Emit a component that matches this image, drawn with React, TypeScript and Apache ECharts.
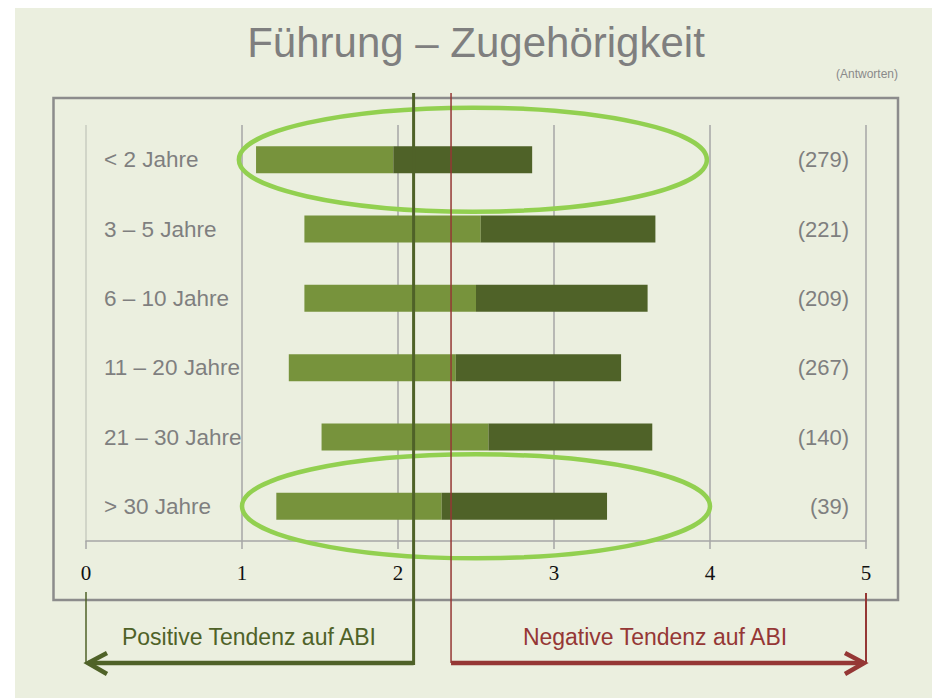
import React, { useEffect, useRef } from "react";
import * as echarts from "echarts";

const categories = ["< 2 Jahre", "3 – 5 Jahre", "6 – 10 Jahre", "11 – 20 Jahre", "21 – 30 Jahre", "> 30 Jahre"];
const counts = ["(279)", "(221)", "(209)", "(267)", "(140)", "(39)"];
const barStart = [1.09, 1.40, 1.40, 1.30, 1.51, 1.22];
const barMid = [1.97, 2.53, 2.50, 2.37, 2.58, 2.28];
const barEnd = [2.86, 3.65, 3.60, 3.43, 3.63, 3.34];
const xTicks = [0, 1, 2, 3, 4, 5];
const positiveMark = 2.1;
const negativeMark = 2.34;
const highlightRows = [0, 5];
const highlightCenters = [2.48, 2.5];
const highlightHalfWidth = 1.5;

const SANS = "'Liberation Sans', Arial, sans-serif";
const GREEN = "#4f6228";
const RED = "#953735";

export default function App() {
  const ref = useRef<HTMLDivElement>(null);
  useEffect(() => {
    const chart = echarts.init(ref.current!, null, { renderer: "svg" });
    const option: any = {
      animation: false,
      backgroundColor: "#ebefdf",
      grid: { left: 71, right: 66, top: 117, bottom: 157 },
      xAxis: {
        type: "value",
        min: xTicks[0],
        max: xTicks[xTicks.length - 1],
        interval: 1,
        axisLine: { show: true, lineStyle: { color: "#a6a6a6", width: 1.5 } },
        axisTick: { show: true, length: 8, lineStyle: { color: "#a6a6a6", width: 1.5 } },
        splitLine: {
          show: true,
          lineStyle: { color: ["#c9ccc0", "#a6a6a6", "#a6a6a6", "#a6a6a6", "#a6a6a6", "#a6a6a6"], width: 1.5 },
        },
        axisLabel: {
          margin: 21,
          color: "#111111",
          fontSize: 21,
          fontFamily: "'Liberation Serif', 'Times New Roman', serif",
        },
      },
      yAxis: [
        {
          type: "category",
          data: categories,
          inverse: true,
          axisLine: { show: false },
          axisTick: { show: false },
          splitLine: { show: false },
          axisLabel: { inside: true, margin: 18, color: "#7f7f7f", fontSize: 22.5, fontFamily: SANS },
        },
        {
          type: "category",
          data: counts,
          inverse: true,
          position: "right",
          axisLine: { show: false },
          axisTick: { show: false },
          splitLine: { show: false },
          axisLabel: { inside: true, margin: 17, color: "#7f7f7f", fontSize: 22, fontFamily: SANS },
        },
      ],
      series: [
        {
          type: "bar",
          stack: "a",
          barWidth: 27,
          itemStyle: { color: "transparent" },
          data: barStart,
          silent: true,
        },
        {
          type: "bar",
          stack: "a",
          barWidth: 27,
          itemStyle: { color: "#77933c" },
          data: barMid.map((m, i) => +(m - barStart[i]).toFixed(3)),
        },
        {
          type: "bar",
          stack: "a",
          barWidth: 27,
          itemStyle: { color: "#4f6228" },
          data: barEnd.map((e, i) => +(e - barMid[i]).toFixed(3)),
        },
      ],
    };
    chart.setOption(option);

    const px = (v: number) => chart.convertToPixel({ xAxisIndex: 0 }, v) as number;
    const py = (i: number) => chart.convertToPixel({ yAxisIndex: 0 }, i) as number;
    const x0 = px(0);
    const x5 = px(5);
    const xp = px(positiveMark);
    const xn = px(negativeMark);
    const unit = px(1) - px(0);
    const arrowY = 655;

    const graphic: any[] = [
      {
        type: "rect",
        shape: { x: 38.5, y: 90, width: 844.5, height: 502 },
        style: { fill: "none", stroke: "#8c8c8c", lineWidth: 2.5 },
        z: 0,
      },
      {
        type: "text",
        x: 461,
        y: 34,
        style: {
          text: "Führung – Zugehörigkeit",
          fill: "#7f7f7f",
          font: `42px ${SANS}`,
          align: "center",
          verticalAlign: "middle",
        },
      },
      {
        type: "text",
        x: 883,
        y: 66,
        style: { text: "(Antworten)", fill: "#8a8a8a", font: `12px ${SANS}`, align: "right", verticalAlign: "middle" },
      },
      ...highlightRows.map((r, k) => ({
        type: "ellipse",
        shape: { cx: px(highlightCenters[k]), cy: py(r), rx: highlightHalfWidth * unit, ry: 52 },
        style: { fill: "none", stroke: "#92d050", lineWidth: 4.5 },
        z: 10,
      })),
      {
        type: "line",
        shape: { x1: xp, y1: 85, x2: xp, y2: arrowY + 2 },
        style: { stroke: GREEN, lineWidth: 3 },
        z: 11,
      },
      {
        type: "line",
        shape: { x1: xn, y1: 85, x2: xn, y2: arrowY },
        style: { stroke: RED, lineWidth: 1.5 },
        z: 11,
      },
      {
        type: "line",
        shape: { x1: x0 + 2, y1: arrowY, x2: xp, y2: arrowY },
        style: { stroke: GREEN, lineWidth: 4.5 },
        z: 11,
      },
      {
        type: "line",
        shape: { x1: x0, y1: 584, x2: x0, y2: arrowY },
        style: { stroke: GREEN, lineWidth: 1.5 },
        z: 11,
      },
      {
        type: "polyline",
        shape: { points: [[x0 + 21, arrowY - 10], [x0 + 2, arrowY], [x0 + 21, arrowY + 11]] },
        style: { stroke: GREEN, lineWidth: 4.5, fill: "none", lineJoin: "miter" },
        z: 11,
      },
      {
        type: "line",
        shape: { x1: xn, y1: arrowY, x2: x5 - 2, y2: arrowY },
        style: { stroke: RED, lineWidth: 4.5 },
        z: 11,
      },
      {
        type: "line",
        shape: { x1: x5, y1: 585, x2: x5, y2: arrowY },
        style: { stroke: RED, lineWidth: 2 },
        z: 11,
      },
      {
        type: "polyline",
        shape: { points: [[x5 - 21, arrowY - 10], [x5 - 2, arrowY], [x5 - 21, arrowY + 11]] },
        style: { stroke: RED, lineWidth: 4.5, fill: "none", lineJoin: "miter" },
        z: 11,
      },
      {
        type: "text",
        x: 234,
        y: 629,
        style: { text: "Positive Tendenz auf ABI", fill: GREEN, font: `23px ${SANS}`, align: "center", verticalAlign: "middle" },
      },
      {
        type: "text",
        x: 640,
        y: 629,
        style: { text: "Negative Tendenz auf ABI", fill: RED, font: `23px ${SANS}`, align: "center", verticalAlign: "middle" },
      },
    ];
    chart.setOption({ graphic });

    return () => chart.dispose();
  }, []);

  return (
    <div
      ref={ref}
      style={{ position: "fixed", left: 15, top: 8, width: 917, height: 690 }}
    />
  );
}
